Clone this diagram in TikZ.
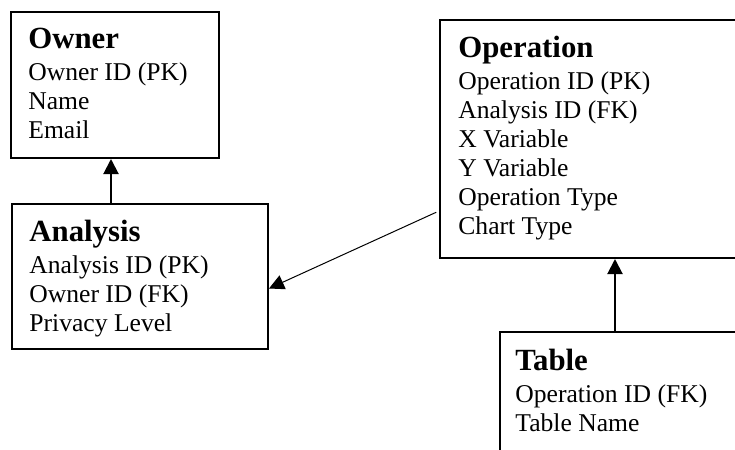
\documentclass[tikz,border=0pt]{standalone}
\usepackage{fontspec}
\setmainfont{Liberation Serif}
\usetikzlibrary{arrows.meta,positioning}
\newcommand\enttitle[1]{{\fontsize{15.4pt}{16pt}\selectfont\bfseries #1}\\[1.5pt]}
\tikzset{
  >={Triangle[length=7.5pt,width=7.5pt]},
  entity/.style={draw,line width=1pt,anchor=north west,inner sep=0pt},
  fields/.style={anchor=north west,inner sep=0pt,align=left,
    font=\fontsize{12.8pt}{14.5pt}\selectfont},
  link/.style={->,line width=#1},
  link/.default=1pt,
}
\begin{document}
\begin{tikzpicture}[x=0.5pt,y=-0.5pt]
  \path[use as bounding box,clip] (0,0) rectangle (735,450);
  % entity boxes
  \node[entity,minimum width=104pt,minimum height=73pt] (owner) at (10,11) {};
  \node[entity,minimum width=128pt,minimum height=72.5pt] (analysis) at (11,203) {};
  \node[entity,minimum width=170pt,minimum height=119pt] (operation) at (439,19) {};
  \node[entity,minimum width=150pt,minimum height=80pt] (table) at (499,331) {};
  % attributes
  \node[fields,below right=8.5pt and 9pt of owner.north west] (owner-f)
    {\enttitle{Owner}Owner ID (PK)\\Name\\Email};
  \node[fields,below right=8.5pt and 9pt of analysis.north west] (analysis-f)
    {\enttitle{Analysis}Analysis ID (PK)\\Owner ID (FK)\\Privacy Level};
  \node[fields,below right=8.5pt and 9.5pt of operation.north west] (operation-f)
    {\enttitle{Operation}Operation ID (PK)\\Analysis ID (FK)\\X Variable\\Y Variable\\Operation Type\\Chart Type};
  \node[fields,below right=9pt and 8pt of table.north west] (table-f)
    {\enttitle{Table}Operation ID (FK)\\Table Name};
  % references
  \draw[link] ([xshift=-2pt]owner.south |- analysis.north) -- ([xshift=-2pt]owner.south);
  \draw[link] ([xshift=58pt]table.north west) -- ([xshift=58pt]table.north west |- operation.south);
  \draw[link=0.5pt,shorten <=1.5pt] ([yshift=-36pt]operation.west) -- ([yshift=-6pt]analysis.east);
\end{tikzpicture}
\end{document}
